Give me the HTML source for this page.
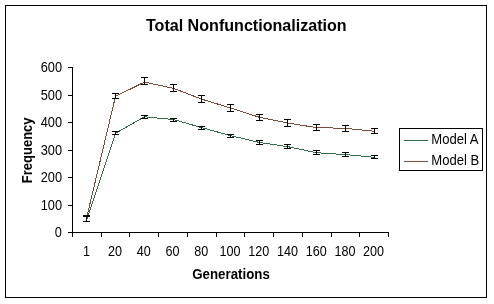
<!DOCTYPE html><html><head><meta charset="utf-8"><style>html,body{margin:0;padding:0;background:#fff}svg{display:block;will-change:transform}text{font-family:"Liberation Sans",sans-serif;fill:#000}</style></head><body>
<svg width="494" height="304" viewBox="0 0 494 304">
<rect x="0" y="0" width="494" height="304" fill="#fff"/>
<rect x="5.5" y="5.5" width="481" height="292" fill="none" stroke="#000" stroke-width="1" shape-rendering="crispEdges"/>
<text transform="translate(246.3,30.9) scale(1,1.03)" font-size="16.1" font-weight="bold" text-anchor="middle">Total Nonfunctionalization</text>
<path d="M72.5 67V233 M72 232.5H389 M68 232.5H72 M68 205.5H72 M68 177.5H72 M68 150.5H72 M68 122.5H72 M68 95.5H72 M68 67.5H72 M72.5 233V237 M101.5 233V237 M129.5 233V237 M158.5 233V237 M187.5 233V237 M216.5 233V237 M244.5 233V237 M273.5 233V237 M302.5 233V237 M331.5 233V237 M359.5 233V237 M388.5 233V237" stroke="#000" stroke-width="1" fill="none" shape-rendering="crispEdges"/>
<text transform="translate(62,236.6) scale(1,1.09)" font-size="12.8" text-anchor="end">0</text>
<text transform="translate(62,209.6) scale(1,1.09)" font-size="12.8" text-anchor="end">100</text>
<text transform="translate(62,181.6) scale(1,1.09)" font-size="12.8" text-anchor="end">200</text>
<text transform="translate(62,154.6) scale(1,1.09)" font-size="12.8" text-anchor="end">300</text>
<text transform="translate(62,126.6) scale(1,1.09)" font-size="12.8" text-anchor="end">400</text>
<text transform="translate(62,99.6) scale(1,1.09)" font-size="12.8" text-anchor="end">500</text>
<text transform="translate(62,71.6) scale(1,1.09)" font-size="12.8" text-anchor="end">600</text>
<text transform="translate(86.4,255.6) scale(1,1.09)" font-size="12.6" text-anchor="middle">1</text>
<text transform="translate(115.1,255.6) scale(1,1.09)" font-size="12.6" text-anchor="middle">20</text>
<text transform="translate(143.8,255.6) scale(1,1.09)" font-size="12.6" text-anchor="middle">40</text>
<text transform="translate(172.5,255.6) scale(1,1.09)" font-size="12.6" text-anchor="middle">60</text>
<text transform="translate(201.3,255.6) scale(1,1.09)" font-size="12.6" text-anchor="middle">80</text>
<text transform="translate(230.0,255.6) scale(1,1.09)" font-size="12.6" text-anchor="middle">100</text>
<text transform="translate(258.7,255.6) scale(1,1.09)" font-size="12.6" text-anchor="middle">120</text>
<text transform="translate(287.5,255.6) scale(1,1.09)" font-size="12.6" text-anchor="middle">140</text>
<text transform="translate(316.2,255.6) scale(1,1.09)" font-size="12.6" text-anchor="middle">160</text>
<text transform="translate(344.9,255.6) scale(1,1.09)" font-size="12.6" text-anchor="middle">180</text>
<text transform="translate(373.6,255.6) scale(1,1.09)" font-size="12.6" text-anchor="middle">200</text>
<text transform="translate(31.6,150.3) rotate(-90) scale(1,1.1)" font-size="13" font-weight="bold" text-anchor="middle">Frequency</text>
<text transform="translate(231,279) scale(1,1.05)" font-size="13.3" font-weight="bold" text-anchor="middle">Generations</text>
<polyline points="86.50,220.80 115.50,133.30 144.50,116.80 173.50,119.50 201.50,127.60 230.50,135.60 259.50,142.50 287.50,146.60 316.50,152.70 345.50,154.60 374.50,157.30" fill="none" stroke="#336c4a" stroke-width="1" shape-rendering="crispEdges"/>
<polyline points="86.50,218.30 115.50,96.30 144.50,82.10 173.50,88.30 201.50,99.10 230.50,108.00 259.50,117.30 287.50,123.00 316.50,127.60 345.50,128.30 374.50,131.30" fill="none" stroke="#774e3c" stroke-width="1" shape-rendering="crispEdges"/>
<path d="M86.5 216.5V221.5M83 216.5H90M83 221.5H90M115.5 131.5V134.5M112 131.5H119M112 134.5H119M144.5 115.5V118.5M141 115.5H148M141 118.5H148M173.5 118.5V121.5M170 118.5H177M170 121.5H177M201.5 126.5V129.5M198 126.5H205M198 129.5H205M230.5 134.5V137.5M227 134.5H234M227 137.5H234M259.5 140.5V144.5M256 140.5H263M256 144.5H263M287.5 144.5V148.5M284 144.5H291M284 148.5H291M316.5 150.5V154.5M313 150.5H320M313 154.5H320M345.5 152.5V156.5M342 152.5H349M342 156.5H349M374.5 155.5V158.5M371 155.5H378M371 158.5H378M86.5 215.5V221.5M83 215.5H90M83 221.5H90M115.5 93.5V98.5M112 93.5H119M112 98.5H119M144.5 77.5V84.5M141 77.5H148M141 84.5H148M173.5 84.5V91.5M170 84.5H177M170 91.5H177M201.5 95.5V102.5M198 95.5H205M198 102.5H205M230.5 104.5V111.5M227 104.5H234M227 111.5H234M259.5 114.5V120.5M256 114.5H263M256 120.5H263M287.5 119.5V126.5M284 119.5H291M284 126.5H291M316.5 124.5V130.5M313 124.5H320M313 130.5H320M345.5 125.5V131.5M342 125.5H349M342 131.5H349M374.5 128.5V133.5M371 128.5H378M371 133.5H378" stroke="#000" stroke-width="1" fill="none" shape-rendering="crispEdges"/>
<rect x="399.5" y="128.5" width="83" height="42" fill="#fff" stroke="#000" stroke-width="1" shape-rendering="crispEdges"/>
<path d="M404 140.5H428" stroke="#336c4a" stroke-width="1" shape-rendering="crispEdges"/>
<path d="M404 161.5H428" stroke="#774e3c" stroke-width="1" shape-rendering="crispEdges"/>
<text transform="translate(431.3,143.8) scale(1,1.07)" font-size="13.1">Model A</text>
<text transform="translate(431.3,164.8) scale(1,1.07)" font-size="13.1">Model B</text>
</svg></body></html>
